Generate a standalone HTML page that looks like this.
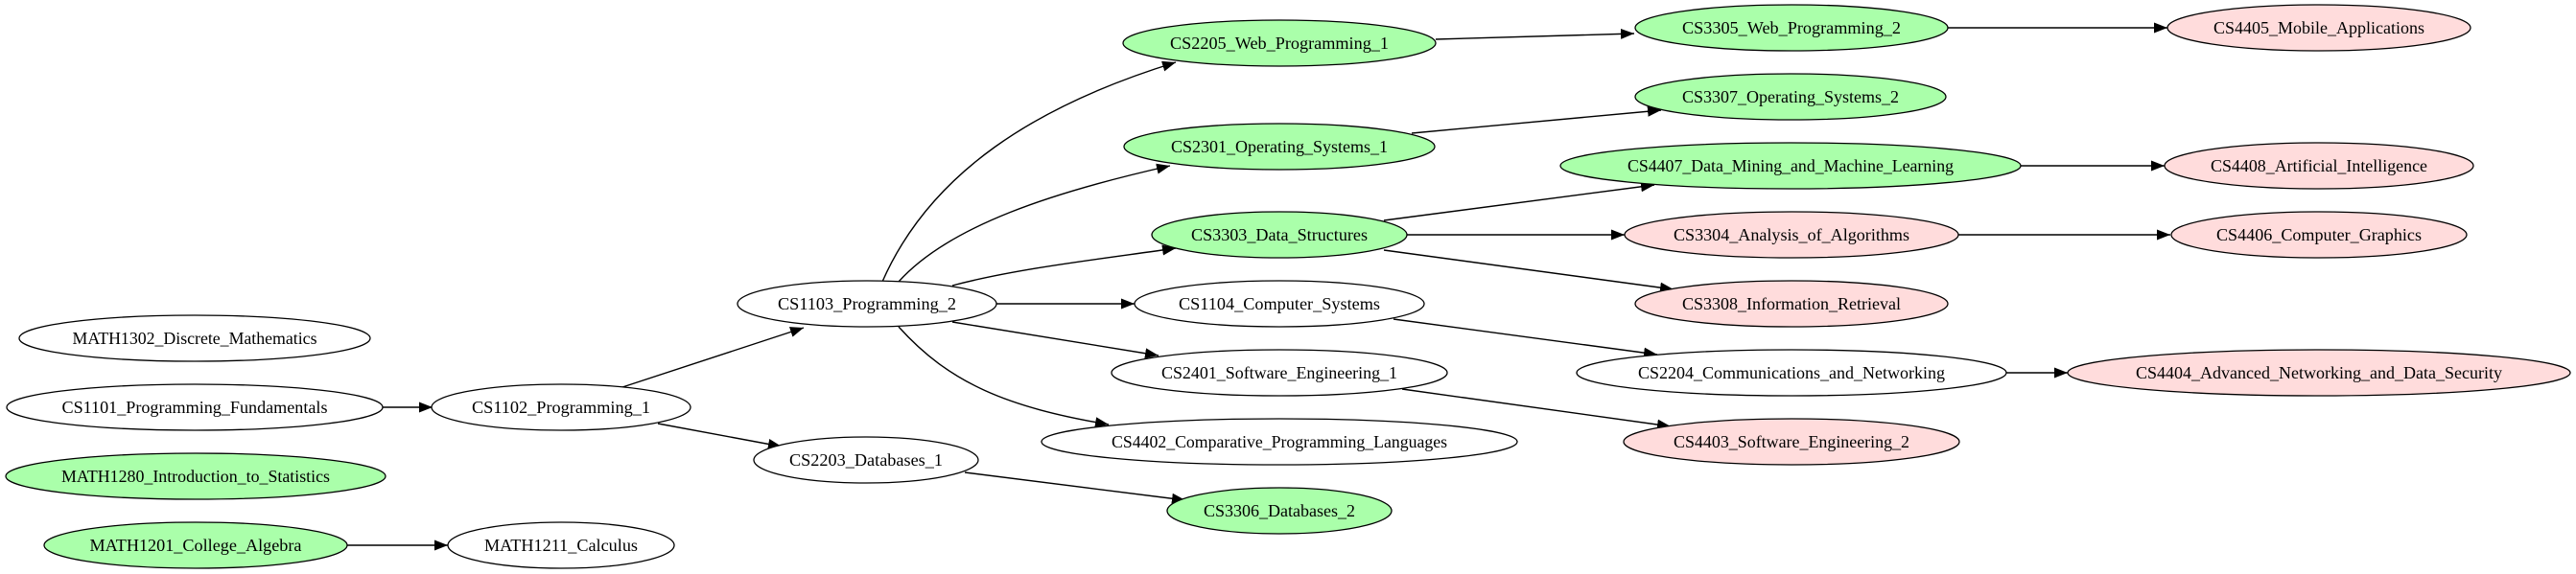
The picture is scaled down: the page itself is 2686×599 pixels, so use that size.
<!DOCTYPE html>
<html><head><meta charset="utf-8"><style>
html,body{margin:0;padding:0;background:#fff;}
svg{display:block;}
text{font-family:"Liberation Serif",serif;font-size:18px;text-anchor:middle;dominant-baseline:central;fill:#000;}
ellipse{stroke:#000;stroke-width:1.3;}
.w{fill:#fff}.g{fill:#aaffaa}.p{fill:#ffdcdc}
path.e{fill:none;stroke:#000;stroke-width:1.4;}
</style></head><body>
<svg width="2686" height="599" viewBox="0 0 2686 599" xmlns="http://www.w3.org/2000/svg">
<defs>
<marker id="a" markerUnits="userSpaceOnUse" markerWidth="16" markerHeight="12" refX="14" refY="5.5" orient="auto">
<path d="M0,0 L14,5.5 L0,11 z" fill="#000"/>
</marker>
</defs>

<!-- edges -->
<path class="e" marker-end="url(#a)" d="M399,425 L451,425"/>
<path class="e" marker-end="url(#a)" d="M362,569 L467,569"/>
<path class="e" marker-end="url(#a)" d="M649,404 L838,342"/>
<path class="e" marker-end="url(#a)" d="M686,442 L815,466"/>
<path class="e" marker-end="url(#a)" d="M920,294 C970,180 1080,110 1226,65"/>
<path class="e" marker-end="url(#a)" d="M937,294 C990,235 1100,200 1220,173"/>
<path class="e" marker-end="url(#a)" d="M993,298 C1060,280 1150,270 1226,259"/>
<path class="e" marker-end="url(#a)" d="M1039,317 L1183,317"/>
<path class="e" marker-end="url(#a)" d="M993,336 L1208,371"/>
<path class="e" marker-end="url(#a)" d="M937,341 C990,400 1050,425 1156,443"/>
<path class="e" marker-end="url(#a)" d="M1006,493 L1236,522"/>
<path class="e" marker-end="url(#a)" d="M1497,41 L1704,35"/>
<path class="e" marker-end="url(#a)" d="M1472,139 L1732,115"/>
<path class="e" marker-end="url(#a)" d="M1443,230 L1725,193"/>
<path class="e" marker-end="url(#a)" d="M1467,245 L1694,245"/>
<path class="e" marker-end="url(#a)" d="M1443,261 L1745,302"/>
<path class="e" marker-end="url(#a)" d="M1453,333 L1728,370"/>
<path class="e" marker-end="url(#a)" d="M1462,406 L1742,445"/>
<path class="e" marker-end="url(#a)" d="M2031,29 L2260,29"/>
<path class="e" marker-end="url(#a)" d="M2107,173 L2257,173"/>
<path class="e" marker-end="url(#a)" d="M2042,245 L2263,245"/>
<path class="e" marker-end="url(#a)" d="M2092,389 L2156,389"/>

<!-- nodes -->
<ellipse class="w" cx="203" cy="353" rx="183" ry="24"/><text x="203" y="353" textLength="255" lengthAdjust="spacingAndGlyphs">MATH1302_Discrete_Mathematics</text>
<ellipse class="w" cx="203" cy="425" rx="196" ry="24"/><text x="203" y="425" textLength="277" lengthAdjust="spacingAndGlyphs">CS1101_Programming_Fundamentals</text>
<ellipse class="g" cx="204" cy="497" rx="198" ry="24"/><text x="204" y="497" textLength="280" lengthAdjust="spacingAndGlyphs">MATH1280_Introduction_to_Statistics</text>
<ellipse class="g" cx="204" cy="569" rx="158" ry="24"/><text x="204" y="569" textLength="221" lengthAdjust="spacingAndGlyphs">MATH1201_College_Algebra</text>
<ellipse class="w" cx="585" cy="569" rx="118" ry="24"/><text x="585" y="569" textLength="160" lengthAdjust="spacingAndGlyphs">MATH1211_Calculus</text>
<ellipse class="w" cx="585" cy="425" rx="135" ry="24"/><text x="585" y="425" textLength="186" lengthAdjust="spacingAndGlyphs">CS1102_Programming_1</text>

<ellipse class="w" cx="904" cy="317" rx="135" ry="24"/><text x="904" y="317" textLength="186" lengthAdjust="spacingAndGlyphs">CS1103_Programming_2</text>
<ellipse class="w" cx="903" cy="480" rx="117" ry="24"/><text x="903" y="480" textLength="160" lengthAdjust="spacingAndGlyphs">CS2203_Databases_1</text>

<ellipse class="g" cx="1334" cy="45" rx="163" ry="24"/><text x="1334" y="45" textLength="228" lengthAdjust="spacingAndGlyphs">CS2205_Web_Programming_1</text>
<ellipse class="g" cx="1334" cy="153" rx="162" ry="24"/><text x="1334" y="153" textLength="226" lengthAdjust="spacingAndGlyphs">CS2301_Operating_Systems_1</text>
<ellipse class="g" cx="1334" cy="245" rx="133" ry="24"/><text x="1334" y="245" textLength="184" lengthAdjust="spacingAndGlyphs">CS3303_Data_Structures</text>
<ellipse class="w" cx="1334" cy="317" rx="151" ry="24"/><text x="1334" y="317" textLength="210" lengthAdjust="spacingAndGlyphs">CS1104_Computer_Systems</text>
<ellipse class="w" cx="1334" cy="389" rx="175" ry="24"/><text x="1334" y="389" textLength="246" lengthAdjust="spacingAndGlyphs">CS2401_Software_Engineering_1</text>
<ellipse class="w" cx="1334" cy="461" rx="248" ry="24"/><text x="1334" y="461" textLength="350" lengthAdjust="spacingAndGlyphs">CS4402_Comparative_Programming_Languages</text>
<ellipse class="g" cx="1334" cy="533" rx="117" ry="24"/><text x="1334" y="533" textLength="158" lengthAdjust="spacingAndGlyphs">CS3306_Databases_2</text>

<ellipse class="g" cx="1868" cy="29" rx="163" ry="24"/><text x="1868" y="29" textLength="228" lengthAdjust="spacingAndGlyphs">CS3305_Web_Programming_2</text>
<ellipse class="g" cx="1867" cy="101" rx="162" ry="24"/><text x="1867" y="101" textLength="226" lengthAdjust="spacingAndGlyphs">CS3307_Operating_Systems_2</text>
<ellipse class="g" cx="1867" cy="173" rx="240" ry="24"/><text x="1867" y="173" textLength="340" lengthAdjust="spacingAndGlyphs">CS4407_Data_Mining_and_Machine_Learning</text>
<ellipse class="p" cx="1868" cy="245" rx="174" ry="24"/><text x="1868" y="245" textLength="246" lengthAdjust="spacingAndGlyphs">CS3304_Analysis_of_Algorithms</text>
<ellipse class="p" cx="1868" cy="317" rx="163" ry="24"/><text x="1868" y="317" textLength="228" lengthAdjust="spacingAndGlyphs">CS3308_Information_Retrieval</text>
<ellipse class="w" cx="1868" cy="389" rx="224" ry="24"/><text x="1868" y="389" textLength="320" lengthAdjust="spacingAndGlyphs">CS2204_Communications_and_Networking</text>
<ellipse class="p" cx="1868" cy="461" rx="175" ry="24"/><text x="1868" y="461" textLength="246" lengthAdjust="spacingAndGlyphs">CS4403_Software_Engineering_2</text>

<ellipse class="p" cx="2418" cy="29" rx="158" ry="24"/><text x="2418" y="29" textLength="220" lengthAdjust="spacingAndGlyphs">CS4405_Mobile_Applications</text>
<ellipse class="p" cx="2418" cy="173" rx="161" ry="24"/><text x="2418" y="173" textLength="226" lengthAdjust="spacingAndGlyphs">CS4408_Artificial_Intelligence</text>
<ellipse class="p" cx="2418" cy="245" rx="154" ry="24"/><text x="2418" y="245" textLength="214" lengthAdjust="spacingAndGlyphs">CS4406_Computer_Graphics</text>
<ellipse class="p" cx="2418" cy="389" rx="262" ry="24"/><text x="2418" y="389" textLength="382" lengthAdjust="spacingAndGlyphs">CS4404_Advanced_Networking_and_Data_Security</text>
</svg>
</body></html>
